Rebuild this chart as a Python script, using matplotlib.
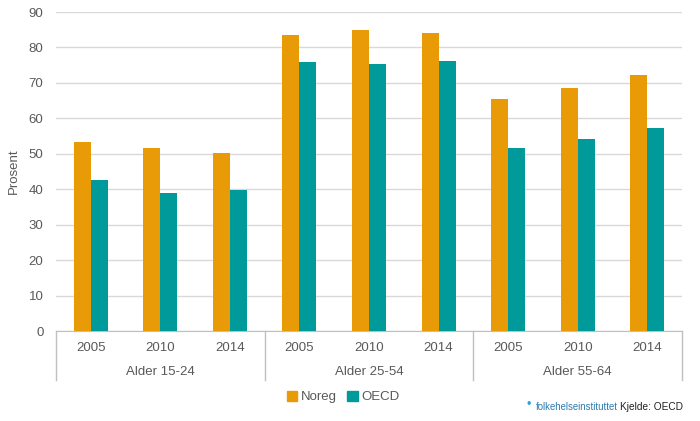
import numpy as np
import matplotlib.pyplot as plt
from matplotlib.patches import Patch

plt.rcParams['font.family'] = ['Liberation Sans', 'DejaVu Sans']

# Data
groups = ['Alder 15-24', 'Alder 25-54', 'Alder 55-64']
years = ['2005', '2010', '2014']
noreg = [53.4, 51.7, 50.3, 83.6, 85.0, 84.2, 65.5, 68.6, 72.3]
oecd = [42.7, 39.0, 39.8, 76.0, 75.4, 76.3, 51.7, 54.2, 57.3]

c_noreg = '#E99A07'
c_oecd = '#009A9A'
txt = '#595959'

fig = plt.figure(figsize=(7, 4.21), dpi=100)
ax = fig.add_axes([56/700, 90/421, 626/700, 319/421])

x = np.arange(len(noreg))
w = 0.245
ax.bar(x - w/2, noreg, w, color=c_noreg, zorder=3)
ax.bar(x + w/2, oecd, w, color=c_oecd, zorder=3)

ax.set_xlim(-0.5, len(noreg) - 0.5)
ax.set_ylim(0, 90)
ax.set_yticks(range(0, 91, 10))
ax.grid(axis='y', color='#D9D9D9', linewidth=1, zorder=0)
for s in ['top', 'right', 'left']:
    ax.spines[s].set_visible(False)
ax.spines['bottom'].set_color('#BFBFBF')
ax.tick_params(axis='y', length=0, pad=9, labelsize=9.5, labelcolor=txt)
ax.tick_params(axis='x', length=0, pad=8, labelsize=9.5, labelcolor=txt)
ax.set_xticks(x)
ax.set_xticklabels(years * len(groups))
ax.set_ylabel('Prosent', fontsize=9.5, color=txt, labelpad=6)

# group labels and separators
trans = ax.get_xaxis_transform()
for i, g in enumerate(groups):
    ax.text(i*3 + 1, -0.128, g, transform=trans, ha='center', va='center',
            fontsize=9.5, color=txt)
for b in [-0.5, 2.5, 5.5, 8.5]:
    ax.plot([b, b], [0, -0.154], transform=trans, color='#BFBFBF',
            linewidth=1, clip_on=False)

# legend
handles = [Patch(color=c_noreg, label='Noreg'), Patch(color=c_oecd, label='OECD')]
fig.legend(handles=handles, loc='center', bbox_to_anchor=(343/700, 1 - 397/421),
           ncol=2, frameon=False, fontsize=9.5, labelcolor=txt,
           handlelength=0.8, handleheight=0.8, handletextpad=0.25, columnspacing=0.8)

# source
fig.text(536/700, 1 - 407/421, 'folkehelseinstituttet', fontsize=6.9,
         color='#2A7AB0', va='center', ha='left')
fig.text(529/700, 1 - 405/421, '\u2022', fontsize=9, color='#29A3D6', va='center', ha='center')
fig.text(683/700, 1 - 407/421, 'Kjelde: OECD', fontsize=7.3, color='#222222',
         va='center', ha='right')

fig.savefig('out.png', dpi=100)
